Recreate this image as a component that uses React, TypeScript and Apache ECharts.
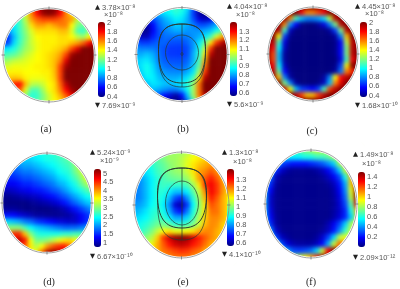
import React, { useEffect, useRef } from "react";
import * as echarts from "echarts";

const gridA = [
[1.2,1.2,1.2,1.25,1.4,1.6,1.85,2,2,2,1.85,1.55,1.4,1.35,1.3,1.3,1.3],
[1.1,1.1,1.1,1.15,1.35,1.6,1.8,1.95,2,1.95,1.8,1.6,1.45,1.35,1.3,1.3,1.3],
[1,1,1.05,1.12,1.3,1.55,1.65,1.7,1.7,1.7,1.65,1.6,1.55,1.3,1.25,1.3,1.3],
[.9,.9,.98,1.1,1.25,1.45,1.55,1.55,1.5,1.55,1.6,1.6,1.4,1.2,1.15,1.3,1.3],
[.8,.82,.95,1.1,1.22,1.35,1.45,1.45,1.45,1.45,1.5,1.5,1.35,1.12,1.08,1.22,1.35],
[.65,.68,.9,1.08,1.2,1.32,1.4,1.42,1.42,1.42,1.45,1.45,1.4,1.3,1.25,1.4,1.55],
[.68,.72,.95,1.1,1.22,1.32,1.38,1.42,1.42,1.42,1.45,1.45,1.5,1.55,1.65,1.8,1.95],
[.95,.98,1.05,1.15,1.25,1.3,1.38,1.42,1.42,1.45,1.48,1.55,1.7,1.85,2,2,2],
[1.1,1.12,1.15,1.22,1.3,1.35,1.4,1.42,1.45,1.48,1.55,1.7,1.95,2,2,2,2],
[1.22,1.25,1.3,1.32,1.35,1.38,1.4,1.42,1.45,1.5,1.6,1.85,2,2,2,2,2],
[1.32,1.35,1.38,1.38,1.38,1.4,1.42,1.42,1.45,1.5,1.7,1.95,2,2,2,2,2],
[1.4,1.42,1.42,1.42,1.4,1.4,1.4,1.42,1.42,1.5,1.7,2,2,2,2,2,2],
[1.45,1.48,1.5,1.48,1.42,1.38,1.38,1.38,1.42,1.48,1.7,2,2,2,2,2,2],
[1.55,1.65,1.75,1.8,1.5,1.3,1.28,1.32,1.4,1.45,1.65,1.9,2,2,2,2,2],
[1.55,1.65,1.7,1.65,1.35,1.12,1.12,1.25,1.38,1.45,1.6,1.8,1.95,2,2,2,2],
[1.4,1.4,1.4,1.35,1.2,1.05,1.08,1.2,1.32,1.42,1.52,1.65,1.8,1.9,1.9,1.9,1.9],
[1.3,1.3,1.3,1.25,1.2,1.15,1.15,1.22,1.32,1.4,1.45,1.55,1.7,1.8,1.8,1.8,1.8],
];

const gridB = [
[.8,.8,.8,.8,.85,.88,.9,.92,.9,.85,.72,.6,.56,.56,.7,.75,.8],
[.8,.8,.8,.8,.82,.85,.87,.9,.88,.82,.7,.58,.55,.55,.66,.75,.8],
[.75,.72,.7,.72,.76,.8,.83,.86,.85,.8,.72,.63,.6,.63,.72,.78,.85],
[.62,.58,.58,.66,.74,.78,.8,.83,.82,.8,.76,.72,.72,.75,.8,.85,.92],
[.58,.55,.57,.65,.72,.76,.78,.8,.8,.78,.78,.78,.8,.82,.88,.95,1.05],
[.66,.6,.6,.68,.72,.75,.75,.75,.75,.76,.78,.8,.85,.92,1.05,1.15,1.25],
[.75,.7,.7,.72,.74,.74,.72,.72,.72,.74,.78,.85,.95,1.1,1.25,1.35,1.4],
[.78,.76,.76,.76,.74,.72,.7,.7,.7,.72,.78,.88,1.03,1.25,1.4,1.4,1.4],
[.8,.8,.82,.8,.75,.72,.7,.7,.7,.72,.8,.9,1.1,1.35,1.4,1.4,1.4],
[.82,.84,.85,.82,.76,.73,.72,.72,.72,.74,.8,.92,1.15,1.4,1.4,1.4,1.4],
[.82,.85,.88,.84,.78,.75,.74,.74,.74,.76,.82,.95,1.2,1.4,1.4,1.4,1.4],
[.8,.84,.88,.85,.8,.78,.77,.77,.77,.8,.85,1,1.25,1.4,1.4,1.4,1.4],
[.78,.82,.86,.86,.82,.8,.8,.8,.82,.85,.92,1.1,1.35,1.4,1.4,1.4,1.4],
[.75,.78,.82,.85,.84,.82,.82,.84,.86,.9,1,1.2,1.4,1.4,1.4,1.4,1.4],
[.72,.75,.78,.82,.8,.78,.76,.76,.8,.88,1,1.2,1.4,1.4,1.4,1.4,1.4],
[.7,.72,.74,.74,.72,.66,.62,.58,.66,.82,1,1.2,1.35,1.4,1.4,1.4,1.4],
[.7,.7,.7,.7,.7,.62,.56,.55,.58,.75,.9,1.1,1.25,1.35,1.4,1.4,1.4],
];

const gridC = [
[2,2,2,2,2,2,2,2,2,2,2,2,2,2,2,2,2],
[2,2,2,2,2,2,1.8,1.6,1.6,1.7,1.8,2,2,2,2,2,2],
[2,2,2,2,1.6,1.1,.9,.8,.8,.85,.95,1.3,1.9,2,2,2,2],
[2,2,2,1.6,.85,.6,.42,.4,.4,.45,.55,.8,1.2,1.9,2,2,2],
[2,2,1.9,1.1,.5,.4,.4,.4,.4,.4,.4,.45,.7,1.2,1.9,2,2],
[2,2,1.4,.7,.42,.4,.4,.4,.4,.4,.4,.4,.45,.8,1.5,2,2],
[2,1.9,1.1,.55,.4,.4,.4,.4,.4,.4,.4,.4,.42,.6,1.3,1.9,2],
[2,1.8,1,.5,.4,.4,.4,.4,.4,.4,.4,.4,.42,.6,1.2,1.9,2],
[2,1.7,.9,.45,.4,.4,.4,.4,.4,.4,.4,.4,.42,.6,1.2,1.9,2],
[2,1.7,.9,.45,.4,.4,.4,.4,.4,.4,.4,.4,.4,.55,1.1,1.8,2],
[2,1.8,1,.5,.4,.4,.4,.4,.4,.4,.4,.4,.42,.7,1.4,2,2],
[2,1.9,1.15,.6,.42,.4,.4,.4,.4,.4,.4,.4,.45,.8,1.6,1.75,2],
[2,2,1.5,.8,.45,.4,.4,.4,.4,.4,.45,.8,1.4,1.8,1.9,2,2],
[2,2,2,1.2,.8,.45,.4,.4,.4,.42,.5,.9,1.6,1.85,2,2,2],
[2,2,2,1.9,1.4,.9,.7,.65,.6,.7,1.1,1.7,1.9,2,2,2,2],
[2,2,2,2,2,1.9,1.7,1.5,1.5,1.7,1.9,2,2,2,2,2,2],
[2,2,2,2,2,2,2,2,2,2,2,2,2,2,2,2,2],
];

const gridD = [
[2,2,2,2,2.3,2.4,2.4,2.5,2.5,2.6,2.7,2.8,2.9,3,3,3,3],
[1.9,1.9,2,2.1,2.2,2.2,2.3,2.4,2.5,2.5,2.6,2.7,2.85,3,3.2,3.2,3.2],
[1.8,1.8,1.8,1.9,2,2,2.1,2.2,2.3,2.4,2.5,2.6,2.7,3,3.3,3.4,3.4],
[1.6,1.6,1.6,1.7,1.8,1.8,1.9,2,2.1,2.2,2.4,2.5,2.6,2.9,3.2,3.5,3.6],
[1.4,1.4,1.4,1.5,1.6,1.6,1.7,1.8,1.9,2,2.2,2.3,2.5,2.7,3,3.4,3.6],
[1.2,1.2,1.2,1.3,1.4,1.4,1.5,1.6,1.7,1.8,2,2.1,2.3,2.5,2.8,3.1,3.3],
[.95,.95,1,1.1,1.15,1.2,1.3,1.35,1.45,1.6,1.7,1.9,2.1,2.3,2.5,2.7,2.9],
[.75,.75,.8,.85,.9,.95,1,1.1,1.2,1.3,1.45,1.6,1.8,2,2.2,2.4,2.5],
[.7,.7,.7,.7,.7,.75,.8,.85,.9,1,1.1,1.3,1.5,1.7,1.9,2.1,2.2],
[.8,.8,.8,.75,.7,.7,.7,.7,.7,.75,.8,.9,1.1,1.3,1.5,1.7,1.9],
[1.3,1.3,1.25,1.1,1,.9,.8,.8,.75,.75,.75,.8,.85,1,1.2,1.4,1.6],
[2.2,2.2,2.1,2,1.8,1.7,1.5,1.4,1.3,1.2,1.1,1.05,1,1,1.2,1.4,1.5],
[3,3,3,3,2.7,2.4,2.2,2.1,2,1.9,1.8,1.7,1.7,1.7,1.8,1.9,2],
[4,4,4.5,4.5,3.8,3,2.6,2.5,2.5,2.5,2.5,2.6,2.6,2.7,2.7,2.7,2.7],
[4,4.2,4.6,5,4.6,3.5,2.9,2.9,3,3.2,3.4,3.6,3.7,3.5,3.3,3,3],
[4,4,4.2,4.5,4.3,3.6,3.2,3.5,4,4.3,4.5,4.6,4.2,3.8,3.5,3,3],
[4,4,4,4,4,3.5,3.5,4.2,5,5.2,5,4.8,4.2,3.8,3.5,3,3],
];

const gridE = [
[.95,.95,.95,.95,.95,.98,1,1,1,1.02,1.05,1.05,1.05,1.05,1.05,1.05,1.05],
[.88,.88,.9,.93,.95,.97,1,1,1.02,1.05,1.08,1.1,1.12,1.12,1.1,1.1,1.1],
[.85,.85,.87,.9,.93,.95,.98,1,1.02,1.06,1.1,1.13,1.15,1.17,1.15,1.1,1.1],
[.82,.82,.85,.88,.92,.94,.97,.99,1,1.04,1.1,1.16,1.18,1.22,1.18,1.12,1.1],
[.78,.78,.82,.86,.9,.93,.95,.96,.97,1,1.06,1.16,1.22,1.27,1.22,1.15,1.1],
[.76,.77,.81,.86,.9,.92,.91,.91,.91,.93,1,1.1,1.25,1.3,1.25,1.17,1.1],
[.76,.77,.81,.86,.9,.9,.86,.82,.82,.86,.94,1.04,1.18,1.3,1.25,1.17,1.1],
[.76,.77,.81,.86,.9,.88,.81,.72,.68,.78,.9,1,1.14,1.27,1.22,1.15,1.1],
[.78,.79,.82,.87,.9,.86,.77,.62,.58,.7,.87,.98,1.1,1.23,1.2,1.15,1.1],
[.8,.82,.85,.89,.91,.88,.8,.7,.66,.76,.89,.99,1.1,1.2,1.2,1.15,1.1],
[.83,.85,.87,.9,.93,.91,.86,.8,.8,.84,.92,1.02,1.12,1.18,1.18,1.15,1.1],
[.86,.88,.9,.93,.96,.96,.94,.9,.9,.92,.97,1.04,1.14,1.18,1.17,1.12,1.1],
[.88,.9,.93,.97,1.03,1.08,1.1,1.07,1.07,1.08,1.1,1.15,1.18,1.18,1.15,1.12,1.1],
[.92,.94,.98,1.02,1.12,1.25,1.33,1.38,1.4,1.38,1.32,1.27,1.22,1.18,1.15,1.1,1.1],
[.95,.98,1.02,1.07,1.15,1.22,1.28,1.33,1.35,1.33,1.28,1.25,1.2,1.15,1.12,1.1,1.1],
[1,1,1.05,1.1,1.15,1.2,1.22,1.24,1.26,1.25,1.22,1.2,1.15,1.12,1.1,1.08,1.05],
[1,1,1.05,1.1,1.12,1.15,1.18,1.2,1.2,1.2,1.18,1.15,1.12,1.1,1.05,1,1],
];

const gridF = [
[.7,.7,.7,.7,.7,.7,.7,.75,.8,.85,.85,.85,.85,.85,.85,.85,.85],
[.65,.65,.65,.6,.55,.55,.55,.6,.6,.65,.65,.7,.8,.9,.9,.9,.9],
[.6,.6,.5,.3,.25,.22,.22,.22,.25,.28,.32,.4,.5,.8,1,1.1,1.1],
[.6,.5,.25,.12,.06,.04,.04,.04,.04,.06,.1,.18,.3,.5,.85,1.2,1.3],
[.55,.35,.1,.04,.03,.03,.03,.03,.03,.03,.05,.1,.18,.3,.6,1.05,1.35],
[.5,.25,.06,.03,.03,.03,.03,.03,.03,.03,.03,.05,.1,.22,.45,1,1.45],
[.45,.18,.04,.03,.03,.03,.03,.03,.03,.03,.03,.03,.07,.18,.4,.9,1.48],
[.45,.12,.04,.03,.03,.03,.03,.03,.03,.03,.03,.03,.06,.15,.35,.85,1.48],
[.45,.12,.04,.03,.03,.03,.03,.03,.03,.03,.03,.03,.05,.13,.3,.7,1.35],
[.45,.15,.04,.03,.03,.03,.03,.03,.03,.03,.03,.03,.06,.12,.25,.6,1.05],
[.5,.18,.05,.03,.03,.03,.03,.03,.03,.03,.03,.03,.07,.14,.25,.5,.85],
[.55,.25,.06,.03,.03,.03,.03,.03,.03,.03,.03,.08,.17,.3,.5,.8,.85],
[.6,.4,.12,.04,.03,.03,.03,.03,.03,.03,.05,.1,.22,.4,.65,.85,.85],
[.7,.55,.28,.1,.05,.03,.03,.03,.03,.05,.12,.28,.5,.85,.9,.9,.9],
[.7,.7,.55,.3,.14,.08,.06,.06,.06,.1,.2,.45,.85,1.15,1.1,1,1],
[.75,.75,.75,.6,.42,.3,.28,.3,.35,.5,.85,1.3,1.49,1.35,1.2,1,1],
[.85,.85,.85,.85,.8,.8,.85,.95,1.05,1.25,1.45,1.49,1.35,1.2,1,1,1],
];

const grids = [gridA, gridB, gridC, gridD, gridE, gridF];
const captions = ["(a)", "(b)", "(c)", "(d)", "(e)", "(f)"];
const maxLabels = ["3.78×10⁻⁸", "4.04×10⁻⁸", "4.45×10⁻⁸", "5.24×10⁻⁹", "1.3×10⁻⁸", "1.49×10⁻⁸"];
const minLabels = ["7.69×10⁻⁹", "5.6×10⁻⁹", "1.68×10⁻¹⁰", "6.67×10⁻¹⁰", "4.1×10⁻¹⁰", "2.09×10⁻¹²"];
const units = ["×10⁻⁸", "×10⁻⁸", "×10⁻⁸", "×10⁻⁹", "×10⁻⁸", "×10⁻⁸"];
const barMin = [0.4, 0.55, 0.4, 0.67, 0.55, 0.01];
const barMax = [2, 1.4, 2, 5.24, 1.4, 1.49];
const tickMin = [0.4, 0.6, 0.4, 1, 0.6, 0.2];
const tickMax = [2, 1.3, 2, 5, 1.3, 1.4];
const tickStep = [0.2, 0.1, 0.2, 0.5, 0.1, 0.2];

const JET = ["#00007f", "#0000ff", "#007fff", "#00ffff", "#7fff7f", "#ffff00", "#ff7f00", "#ff0000", "#7f0000"];

const layout = [
  { cx: 49, cy: 55, rx: 46, ry: 47, barX: 98, barT: 22, barB: 97, tickT: 22, tickB: 96, triX: 95, maxY: 7, unitX: 104, unitY: 14.5, minY: 105, capX: 46, capY: 128 },
  { cx: 182, cy: 54.5, rx: 46, ry: 47, barX: 230, barT: 22, barB: 96, tickT: 31, tickB: 92, triX: 227, maxY: 6, unitX: 236, unitY: 14.5, minY: 104, capX: 183, capY: 128 },
  { cx: 313, cy: 54, rx: 45, ry: 47, barX: 360, barT: 22, barB: 97, tickT: 22, tickB: 95, triX: 355, maxY: 6, unitX: 365, unitY: 13.5, minY: 105, capX: 312, capY: 130 },
  { cx: 47, cy: 203, rx: 45, ry: 50, barX: 94, barT: 169, barB: 247, tickT: 173, tickB: 242, triX: 90, maxY: 152, unitX: 100, unitY: 160.5, minY: 256, capX: 49, capY: 281 },
  { cx: 181.5, cy: 205, rx: 47.5, ry: 53, barX: 227, barT: 169, barB: 246, tickT: 179, tickB: 242, triX: 222, maxY: 152, unitX: 233, unitY: 161, minY: 254, capX: 183, capY: 281 },
  { cx: 311, cy: 204, rx: 46, ry: 54, barX: 358, barT: 172, barB: 247, tickT: 176, tickB: 236, triX: 353, maxY: 154, unitX: 362, unitY: 163, minY: 257, capX: 311, capY: 281 },
];

const devices = [
  { cx: 182, top: 24, bot: 83, botExtra: 87, hw: 23.5, iT: 35, iB: 70, ihw: 16.5 },
  { cx: 182, top: 168, bot: 228, botExtra: 240, hw: 24.5, iT: 181, iB: 225, ihw: 16.5 },
];

const FONT = "Liberation Sans";
const GREY = "#555";
const LINE = "#2a3a32";
const BLEED = 3;

function contourPath(cx: number, t: number, b: number, hw: number) {
  const m = (t + b) / 2;
  return `M${cx} ${t}C${cx + hw * 0.75} ${t} ${cx + hw} ${t + 8} ${cx + hw} ${m - 4}C${cx + hw} ${b - 10} ${cx + hw * 0.7} ${b} ${cx} ${b}C${cx - hw * 0.7} ${b} ${cx - hw} ${b - 10} ${cx - hw} ${m - 4}C${cx - hw} ${t + 8} ${cx - hw * 0.75} ${t} ${cx} ${t}Z`;
}

function heatOption() {
  const grid: any[] = [], xAxis: any[] = [], yAxis: any[] = [], series: any[] = [], visualMap: any[] = [];
  layout.forEach((p, i) => {
    const rows = grids[i];
    grid.push({ left: p.cx - p.rx - BLEED, top: p.cy - p.ry - BLEED, width: (p.rx + BLEED) * 2, height: (p.ry + BLEED) * 2 });
    xAxis.push({ type: "category", gridIndex: i, data: rows[0].map((_, k) => k), show: false });
    yAxis.push({ type: "category", gridIndex: i, data: rows.map((_, k) => k), inverse: true, show: false });
    const data: number[][] = [];
    rows.forEach((row, y) => row.forEach((v, x) => data.push([x, y, v])));
    series.push({ type: "heatmap", xAxisIndex: i, yAxisIndex: i, data, itemStyle: { borderWidth: 0 }, emphasis: { disabled: true } });
    visualMap.push({ type: "continuous", seriesIndex: i, min: barMin[i], max: barMax[i], show: false, inRange: { color: JET } });
  });
  return { animation: false, grid, xAxis, yAxis, series, visualMap };
}

function overlayOption() {
  const grid: any[] = [], xAxis: any[] = [], yAxis: any[] = [], visualMap: any[] = [];
  const masks: any[] = [], rings: any[] = [], texts: any[] = [], contours: any[] = [];
  layout.forEach((p, i) => {
    visualMap.push({
      type: "continuous", seriesIndex: [], min: barMin[i], max: barMax[i], show: true, calculable: false, hoverLink: false,
      left: p.barX, top: p.barT, itemWidth: 7, itemHeight: p.barB - p.barT, padding: 0, text: null, inRange: { color: JET }, z: 4,
    });
    masks.push({ type: "ellipse", z: 3, silent: true, shape: { cx: p.cx, cy: p.cy, rx: p.rx - 1.2 + 15, ry: p.ry - 1.2 + 15 }, style: { fill: "none", stroke: "#fff", lineWidth: 30 } });
    rings.push({ type: "ellipse", z: 5, silent: true, shape: { cx: p.cx, cy: p.cy, rx: p.rx, ry: p.ry }, style: { fill: "none", stroke: "#8a8a8a", lineWidth: 0.8 } });
    [[p.cx, p.cy - p.ry - 1.5, p.cx, p.cy - p.ry + 2], [p.cx, p.cy + p.ry - 2, p.cx, p.cy + p.ry + 1.5], [p.cx - p.rx - 1.5, p.cy, p.cx - p.rx + 2, p.cy], [p.cx + p.rx - 2, p.cy, p.cx + p.rx + 1.5, p.cy]].forEach((s) => {
      rings.push({ type: "line", z: 5, silent: true, shape: { x1: s[0], y1: s[1], x2: s[2], y2: s[3] }, style: { stroke: "#777", lineWidth: 0.8 } });
    });
    const t = (text: string, x: number, y: number, extra: any = {}) =>
      texts.push({ type: "text", z: 6, silent: true, x, y, style: { text, fontFamily: FONT, fontSize: 7.5, fill: GREY, verticalAlign: "middle", ...extra } });
    t("▲", p.triX, p.maxY, { fontFamily: "DejaVu Sans", fontSize: 6.5, fill: "#222" });
    t(maxLabels[i], p.triX + 7, p.maxY);
    t(units[i], p.unitX, p.unitY);
    t("▼", p.triX, p.minY, { fontFamily: "DejaVu Sans", fontSize: 6.5, fill: "#222" });
    t(minLabels[i], p.triX + 7, p.minY);
    t(captions[i], p.capX, p.capY, { fontFamily: "Liberation Serif", fontSize: 10, fill: "#222", align: "center" });

    grid.push({ left: p.barX, width: 7, top: p.tickT, height: p.tickB - p.tickT });
    xAxis.push({ type: "value", gridIndex: i, show: false });
    yAxis.push({
      type: "value", gridIndex: i, position: "right", min: tickMin[i], max: tickMax[i], interval: tickStep[i], z: 6,
      axisLine: { show: false }, axisTick: { show: false }, splitLine: { show: false },
      axisLabel: { fontFamily: FONT, fontSize: 7.5, color: GREY, margin: 2, showMinLabel: true, showMaxLabel: true, hideOverlap: false, formatter: (v: number) => String(+v.toFixed(1)) },
    });
  });
  devices.forEach((d, k) => {
    const name = "dev" + k;
    echarts.graphic.registerShape(name, echarts.graphic.extendPath(contourPath(d.cx, d.top, d.bot, d.hw), {}) as any);
    echarts.graphic.registerShape(name + "b", echarts.graphic.extendPath(contourPath(d.cx, d.top, d.botExtra, d.hw), {}) as any);
    contours.push({ type: name, z: 5, silent: true, style: { fill: "none", stroke: LINE, lineWidth: 1 } });
    contours.push({ type: name + "b", z: 5, silent: true, style: { fill: "none", stroke: LINE, lineWidth: 0.7 } });
    contours.push({ type: "ellipse", z: 5, silent: true, shape: { cx: d.cx, cy: (d.iT + d.iB) / 2, rx: d.ihw, ry: (d.iB - d.iT) / 2 }, style: { fill: "none", stroke: LINE, lineWidth: 0.7 } });
    contours.push({ type: "line", z: 5, silent: true, shape: { x1: d.cx, y1: d.top, x2: d.cx, y2: d.botExtra }, style: { stroke: LINE, lineWidth: 0.7 } });
  });
  contours.push({ type: "circle", z: 5, silent: true, shape: { cx: 182, cy: 54, r: 1.2 }, style: { fill: "none", stroke: LINE, lineWidth: 0.7 } });
  return {
    animation: false,
    grid, xAxis, yAxis, visualMap, series: [],
    graphic: { z: 3, elements: [...masks, ...rings, ...contours, ...texts] },
  };
}

export default function App() {
  const heatRef = useRef<HTMLDivElement>(null);
  const overRef = useRef<HTMLDivElement>(null);
  useEffect(() => {
    document.body.style.margin = "0";
    const heat = echarts.init(heatRef.current!, null, { renderer: "svg" });
    heat.setOption(heatOption() as any);
    const over = echarts.init(overRef.current!, null, { renderer: "svg" });
    over.setOption(overlayOption() as any);
    return () => { heat.dispose(); over.dispose(); };
  }, []);
  const box: React.CSSProperties = { position: "absolute", left: 0, top: 0, width: 400, height: 289 };
  return (
    <div style={{ position: "relative", width: 400, height: 289, overflow: "hidden", background: "#fff" }}>
      <div ref={heatRef} style={{ ...box, filter: "blur(2.3px)" }} />
      <div ref={overRef} style={{ ...box, filter: "blur(0.3px)" }} />
    </div>
  );
}
